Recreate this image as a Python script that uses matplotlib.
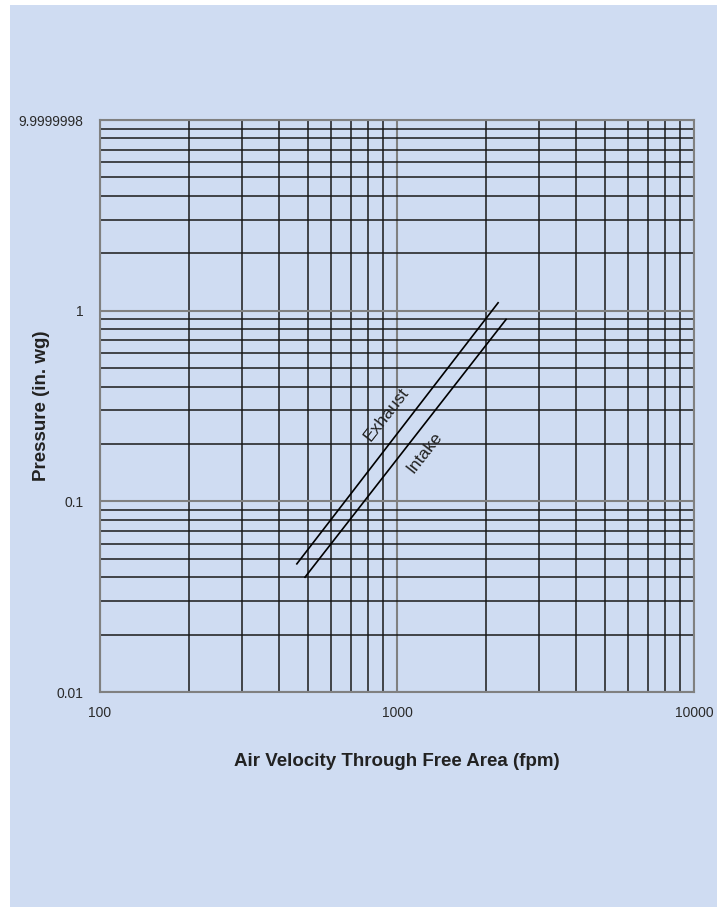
import numpy as np
import matplotlib.pyplot as plt
from matplotlib.patches import Rectangle
from matplotlib.ticker import LogLocator, NullFormatter

plt.rcParams['font.family'] = ['Liberation Sans', 'DejaVu Sans']

# curves (velocity fpm, pressure in. wg)
exhaust_v = [460, 2190]
exhaust_p = [0.047, 1.10]
intake_v = [490, 2330]
intake_p = [0.040, 0.90]

x_ticks = [100, 1000, 10000]
x_labels = ['100', '1000', '10000']
y_ticks = [0.01, 0.1, 1, 9.9999998]
y_labels = ['0.01', '0.1', '1', '9.9999998']

bg = '#cfdcf2'

fig = plt.figure(figsize=(7.17, 9.07), dpi=100)
fig.patch.set_facecolor('white')
fig.add_artist(Rectangle((10 / 717, 0), 1 - 10 / 717, 1 - 5 / 907,
                         transform=fig.transFigure, facecolor=bg,
                         edgecolor='none', zorder=-10))

ax = fig.add_axes([100 / 717, 1 - 692 / 907, 594 / 717, 572 / 907])
ax.set_facecolor(bg)
ax.set_xscale('log')
ax.set_yscale('log')
ax.set_xlim(100, 10000)
ax.set_ylim(0.01, 9.9999998)

ax.xaxis.set_minor_locator(LogLocator(base=10, subs=np.arange(2, 10)))
ax.yaxis.set_minor_locator(LogLocator(base=10, subs=np.arange(2, 10)))
ax.xaxis.set_minor_formatter(NullFormatter())
ax.yaxis.set_minor_formatter(NullFormatter())
ax.set_xticks(x_ticks)
ax.set_xticklabels(x_labels)
ax.set_yticks(y_ticks)
ax.set_yticklabels(y_labels)

ax.grid(True, which='minor', color='#1a1a1a', lw=1.1)
ax.grid(True, which='major', color='#808080', lw=1.5)
ax.set_axisbelow(True)
ax.tick_params(which='both', length=0, labelsize=10, colors='#2a2a2a')
ax.tick_params(axis='x', pad=10)
ax.tick_params(axis='y', pad=12)
for s in ax.spines.values():
    s.set_color('#808080')
    s.set_linewidth(1.5)

ax.plot(exhaust_v, exhaust_p, color='black', lw=1.2)
ax.plot(intake_v, intake_p, color='black', lw=1.2)

ax.text(925, 0.284, 'Exhaust', rotation=52, ha='center', va='center',
        fontsize=12.5, color='#222222')
ax.text(1233, 0.18, 'Intake', rotation=52, ha='center', va='center',
        fontsize=12.5, color='#222222')

fig.text(397 / 717, 1 - 762 / 907, 'Air Velocity Through Free Area (fpm)',
         ha='center', va='center', fontsize=13.5, fontweight='bold', color='#222222')
fig.text(42 / 717, 1 - 406 / 907, 'Pressure (in. wg)', rotation=90,
         ha='center', va='center', fontsize=13.5, fontweight='bold', color='#222222')

fig.savefig('out.png', dpi=100, facecolor=fig.get_facecolor())
